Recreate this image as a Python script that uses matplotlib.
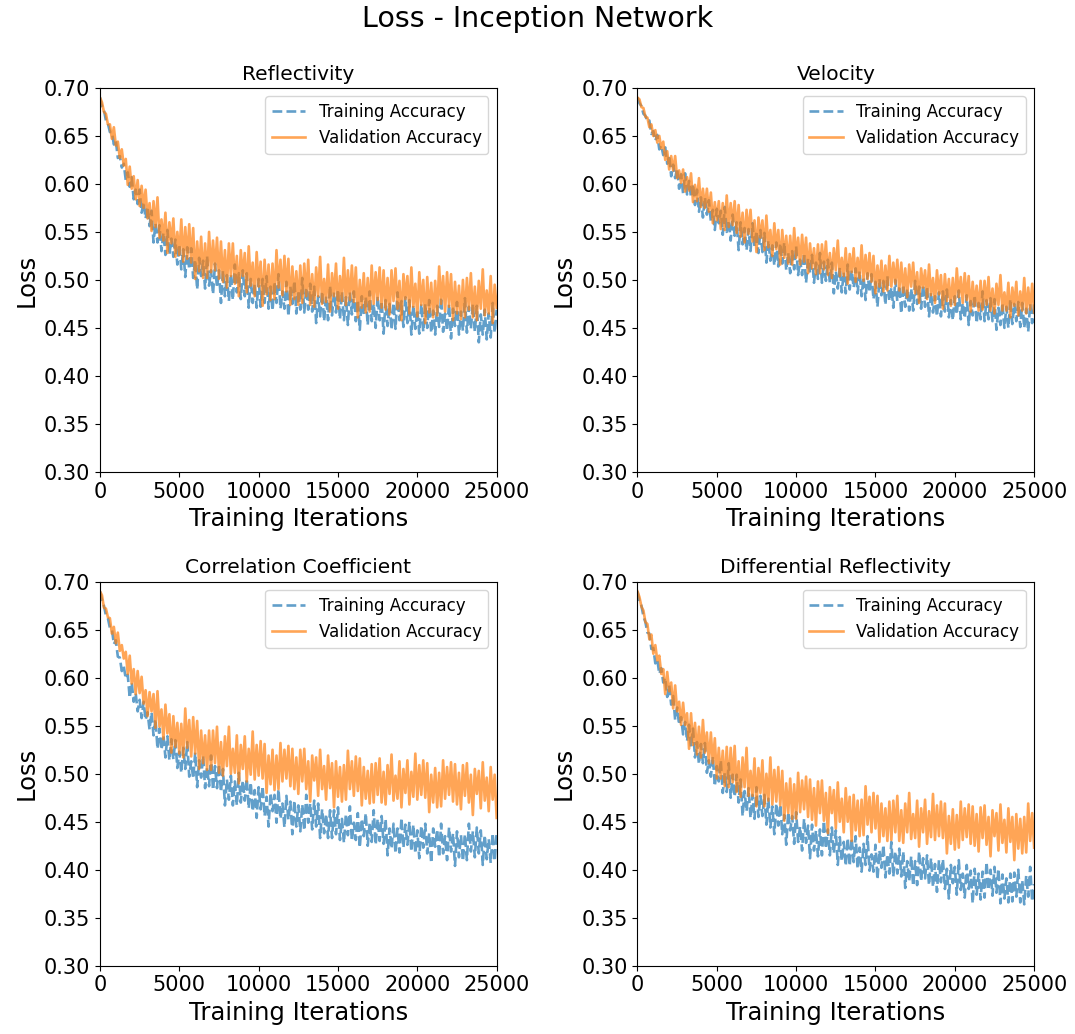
import numpy as np
import matplotlib
matplotlib.use("Agg")
import matplotlib.pyplot as plt
from matplotlib.ticker import FormatStrFormatter

# loss values (in thousandths), one point every 125 iterations
iterations = np.arange(0, 25001, 125)

refl_train = [690, 681, 677, 666, 663, 654, 654, 641, 645, 627, 629, 617, 621, 604, 612, 597, 607, 584, 594, 579,
              594, 570, 581, 564, 576, 556, 572, 539, 559, 539, 557, 530, 549, 526, 552, 526, 543, 524, 542, 516,
              537, 511, 532, 503, 534, 511, 533, 502, 521, 490, 523, 504, 520, 491, 525, 494, 510, 485, 517, 492,
              510, 476, 510, 483, 505, 478, 506, 479, 516, 487, 507, 480, 510, 483, 507, 471, 501, 476, 496, 471,
              501, 472, 501, 476, 504, 470, 493, 468, 498, 476, 506, 470, 488, 470, 498, 462, 493, 475, 499, 465,
              489, 469, 502, 466, 492, 469, 496, 467, 493, 455, 483, 462, 488, 457, 483, 458, 494, 463, 487, 466,
              490, 459, 488, 458, 482, 453, 487, 464, 488, 457, 479, 448, 483, 464, 482, 453, 488, 457, 475, 450,
              483, 458, 478, 444, 479, 452, 475, 448, 476, 449, 487, 458, 478, 451, 482, 455, 479, 443, 474, 449,
              469, 444, 475, 446, 475, 450, 479, 445, 468, 443, 473, 451, 482, 446, 465, 447, 475, 439, 470, 452,
              477, 443, 467, 447, 481, 445, 472, 449, 475, 446, 473, 435, 464, 443, 469, 438, 465, 440, 476, 445,
              469]
refl_val = [690, 685, 675, 673, 662, 662, 647, 659, 640, 644, 627, 636, 619, 626, 599, 618, 595, 608, 584, 604,
            577, 598, 575, 594, 564, 580, 551, 582, 555, 586, 544, 563, 541, 570, 528, 560, 538, 564, 524, 550,
            526, 563, 519, 555, 522, 558, 518, 554, 501, 540, 509, 545, 502, 538, 502, 550, 508, 541, 510, 544,
            501, 540, 498, 531, 492, 538, 504, 538, 496, 525, 483, 531, 504, 528, 487, 535, 494, 518, 483, 529,
            493, 519, 473, 521, 485, 516, 479, 517, 480, 531, 492, 521, 484, 525, 488, 522, 474, 514, 480, 509,
            474, 515, 476, 517, 483, 521, 474, 506, 472, 513, 483, 524, 475, 501, 477, 516, 467, 507, 483, 517,
            470, 504, 478, 523, 474, 510, 479, 515, 477, 513, 461, 500, 471, 507, 466, 502, 467, 515, 475, 508,
            479, 513, 471, 510, 469, 502, 464, 510, 478, 512, 470, 499, 458, 506, 480, 504, 465, 513, 472, 496,
            462, 508, 474, 500, 455, 503, 466, 497, 461, 499, 463, 514, 475, 504, 467, 508, 472, 506, 458, 498,
            465, 494, 459, 500, 461, 502, 469, 507, 461, 493, 458, 499, 470, 511, 463, 489, 465, 504, 455, 495,
            471]

vel_train = [690, 684, 681, 673, 671, 665, 666, 652, 655, 645, 651, 636, 640, 630, 638, 621, 630, 608, 620, 606,
             616, 595, 610, 590, 611, 589, 603, 586, 600, 578, 594, 571, 586, 565, 586, 568, 583, 561, 573, 552,
             574, 559, 572, 547, 576, 550, 562, 541, 568, 546, 560, 531, 560, 537, 554, 531, 553, 530, 559, 535,
             551, 528, 552, 529, 549, 518, 541, 520, 536, 515, 539, 514, 538, 517, 539, 510, 528, 507, 530, 511,
             535, 505, 521, 505, 528, 497, 522, 507, 526, 497, 518, 501, 528, 497, 519, 499, 521, 497, 518, 486,
             509, 491, 513, 487, 508, 486, 516, 490, 510, 492, 512, 486, 509, 483, 503, 479, 507, 487, 506, 480,
             498, 472, 501, 484, 499, 474, 504, 478, 492, 471, 500, 478, 494, 465, 495, 472, 491, 468, 491, 468,
             499, 475, 493, 470, 495, 472, 493, 462, 487, 466, 483, 462, 487, 462, 488, 467, 490, 461, 479, 458,
             483, 464, 489, 459, 476, 460, 484, 453, 478, 463, 484, 455, 476, 459, 488, 457, 479, 459, 481, 457,
             480, 448, 471, 453, 476, 450, 472, 450, 480, 454, 475, 457, 477, 451, 476, 450, 470, 446, 475, 455,
             475]
vel_val = [690, 688, 680, 679, 670, 669, 659, 662, 650, 656, 643, 650, 637, 644, 625, 634, 615, 629, 614, 629,
           606, 614, 601, 615, 592, 607, 593, 611, 581, 599, 582, 606, 576, 595, 575, 595, 571, 591, 559, 581,
           562, 582, 553, 580, 552, 588, 555, 580, 557, 582, 549, 578, 545, 570, 539, 573, 548, 573, 540, 562,
           529, 565, 544, 562, 531, 567, 534, 552, 525, 559, 532, 552, 516, 552, 523, 546, 517, 546, 516, 554,
           523, 544, 516, 547, 519, 544, 507, 538, 512, 533, 506, 537, 507, 537, 511, 540, 505, 528, 502, 533,
           510, 541, 504, 523, 504, 533, 496, 527, 508, 533, 498, 523, 502, 536, 499, 526, 501, 528, 498, 525,
           486, 515, 493, 520, 488, 515, 489, 525, 493, 518, 496, 521, 489, 518, 487, 512, 482, 516, 493, 518,
           486, 508, 476, 512, 492, 510, 480, 516, 484, 502, 476, 510, 485, 505, 470, 506, 478, 501, 473, 502,
           474, 512, 482, 503, 476, 507, 479, 504, 467, 498, 473, 494, 468, 499, 469, 499, 474, 503, 468, 491,
           465, 496, 474, 505, 468, 487, 468, 497, 461, 492, 473, 498, 463, 488, 468, 502, 465, 492, 469, 496,
           466]

corr_train = [690, 681, 675, 665, 662, 652, 651, 635, 639, 622, 621, 607, 612, 599, 603, 579, 595, 575, 584, 565,
              577, 558, 575, 556, 564, 546, 564, 540, 557, 526, 547, 525, 540, 517, 539, 514, 536, 515, 535, 506,
              523, 501, 527, 505, 533, 497, 513, 495, 522, 486, 514, 496, 519, 485, 507, 487, 519, 483, 508, 485,
              510, 481, 505, 467, 494, 473, 498, 467, 492, 467, 501, 470, 493, 472, 495, 464, 491, 461, 483, 454,
              486, 463, 487, 456, 476, 445, 480, 461, 478, 449, 484, 453, 469, 444, 477, 452, 471, 437, 472, 445,
              467, 440, 468, 441, 478, 449, 469, 442, 472, 445, 469, 433, 463, 438, 458, 433, 462, 433, 462, 437,
              465, 431, 453, 428, 458, 436, 466, 430, 449, 431, 459, 423, 453, 435, 459, 425, 449, 429, 462, 426,
              453, 430, 456, 427, 453, 415, 443, 422, 448, 417, 443, 418, 454, 423, 447, 426, 450, 419, 447, 417,
              441, 412, 446, 423, 448, 417, 438, 407, 443, 424, 442, 413, 448, 417, 435, 410, 444, 419, 438, 404,
              440, 413, 436, 409, 437, 410, 448, 419, 440, 413, 444, 417, 441, 405, 436, 411, 432, 407, 438, 409,
              439]
corr_val = [690, 686, 673, 672, 663, 662, 646, 653, 636, 647, 628, 634, 620, 627, 604, 623, 594, 609, 583, 607,
            584, 601, 573, 587, 560, 585, 565, 583, 548, 586, 549, 567, 536, 572, 542, 562, 522, 560, 528, 553,
            521, 552, 517, 568, 527, 556, 518, 559, 521, 555, 505, 545, 511, 540, 504, 545, 504, 545, 511, 549,
            501, 533, 498, 539, 508, 549, 500, 526, 501, 540, 490, 530, 505, 539, 492, 526, 499, 544, 494, 530,
            498, 534, 495, 531, 480, 519, 489, 525, 483, 519, 484, 532, 492, 525, 495, 529, 487, 526, 484, 517,
            479, 525, 492, 526, 484, 513, 471, 519, 493, 517, 477, 525, 484, 508, 473, 519, 485, 511, 465, 513,
            476, 507, 471, 509, 473, 524, 484, 513, 477, 518, 482, 516, 467, 507, 474, 503, 469, 510, 470, 511,
            478, 516, 470, 502, 468, 509, 479, 520, 472, 498, 474, 513, 465, 505, 480, 514, 468, 502, 476, 521,
            473, 509, 478, 514, 475, 511, 460, 499, 470, 506, 465, 501, 466, 514, 474, 507, 478, 512, 471, 510,
            468, 501, 463, 509, 477, 511, 470, 499, 457, 505, 479, 503, 464, 512, 472, 496, 461, 507, 473, 499,
            454]

zdr_train = [690, 679, 675, 664, 658, 647, 646, 630, 631, 615, 619, 604, 610, 595, 600, 580, 592, 572, 581, 556,
             569, 551, 559, 541, 554, 534, 551, 528, 547, 517, 533, 510, 531, 511, 532, 501, 514, 497, 518, 487,
             508, 492, 514, 480, 501, 481, 511, 475, 499, 476, 499, 470, 494, 456, 482, 461, 485, 454, 478, 453,
             486, 455, 477, 456, 478, 447, 474, 444, 466, 437, 469, 446, 468, 437, 457, 426, 460, 441, 456, 427,
             460, 429, 445, 420, 453, 428, 446, 412, 447, 420, 441, 414, 442, 415, 451, 422, 442, 415, 444, 417,
             441, 405, 434, 409, 429, 404, 433, 404, 433, 408, 435, 401, 423, 398, 427, 405, 435, 399, 416, 398,
             426, 390, 420, 402, 426, 392, 416, 396, 429, 393, 419, 396, 422, 393, 419, 381, 409, 388, 414, 383,
             409, 384, 419, 388, 412, 391, 415, 384, 412, 382, 406, 377, 410, 387, 411, 380, 401, 370, 405, 386,
             403, 374, 410, 379, 396, 371, 405, 380, 399, 365, 401, 374, 396, 369, 398, 371, 408, 379, 400, 373,
             403, 376, 401, 365, 395, 370, 391, 366, 396, 367, 397, 372, 400, 366, 389, 364, 394, 372, 403, 367,
             385]
zdr_val = [690, 684, 674, 670, 658, 656, 640, 645, 625, 634, 618, 623, 604, 609, 583, 606, 586, 595, 568, 592,
           565, 575, 551, 574, 551, 563, 526, 563, 530, 553, 520, 549, 517, 556, 522, 543, 511, 543, 511, 537,
           495, 527, 495, 524, 487, 528, 486, 527, 491, 529, 481, 513, 476, 517, 486, 527, 477, 503, 477, 516,
           466, 506, 480, 514, 466, 500, 472, 517, 468, 504, 471, 507, 467, 503, 451, 490, 459, 495, 453, 489,
           453, 501, 460, 493, 463, 497, 455, 494, 452, 485, 446, 492, 459, 493, 451, 480, 438, 486, 459, 483,
           443, 491, 450, 474, 439, 485, 450, 476, 430, 478, 441, 472, 435, 473, 436, 487, 447, 476, 439, 480,
           443, 477, 429, 469, 435, 464, 430, 471, 431, 472, 439, 477, 430, 462, 428, 469, 439, 480, 432, 458,
           433, 472, 424, 464, 439, 473, 427, 461, 434, 479, 431, 467, 435, 471, 433, 469, 417, 456, 427, 463,
           421, 457, 423, 471, 431, 464, 434, 468, 427, 466, 425, 458, 419, 465, 433, 467, 426, 455, 414, 462,
           435, 459, 420, 468, 428, 452, 418, 464, 429, 455, 410, 458, 422, 453, 417, 455, 418, 469, 430, 459,
           423]

panel_titles = ["Reflectivity", "Velocity", "Correlation Coefficient", "Differential Reflectivity"]
train_series = [refl_train, vel_train, corr_train, zdr_train]
val_series = [refl_val, vel_val, corr_val, zdr_val]

fig, axes = plt.subplots(2, 2, figsize=(10.75, 10.34), dpi=100)
fig.subplots_adjust(left=0.093, right=0.962, top=0.915, bottom=0.066, wspace=0.355, hspace=0.286)
fig.suptitle("Loss - Inception Network", fontsize=20.5, y=0.995)

for ax, title, tr, va in zip(axes.flat, panel_titles, train_series, val_series):
    ax.plot(iterations, np.array(tr) / 1000, '--', color='#1f77b4', alpha=0.7, lw=1.9,
            label='Training Accuracy')
    ax.plot(iterations, np.array(va) / 1000, '-', color='#ff7f0e', alpha=0.7, lw=1.9,
            label='Validation Accuracy')
    ax.set_title(title, fontsize=14.5)
    ax.set_xlim(0, 25000)
    ax.set_ylim(0.30, 0.70)
    ax.set_xticks(np.arange(0, 25001, 5000))
    ax.set_yticks(np.arange(0.30, 0.701, 0.05))
    ax.yaxis.set_major_formatter(FormatStrFormatter('%.2f'))
    ax.tick_params(labelsize=15)
    ax.set_xlabel("Training Iterations", fontsize=17.5)
    ax.set_ylabel("Loss", fontsize=17.5)
    ax.legend(loc='upper right', fontsize=12)

plt.savefig("out.png", dpi=100)
